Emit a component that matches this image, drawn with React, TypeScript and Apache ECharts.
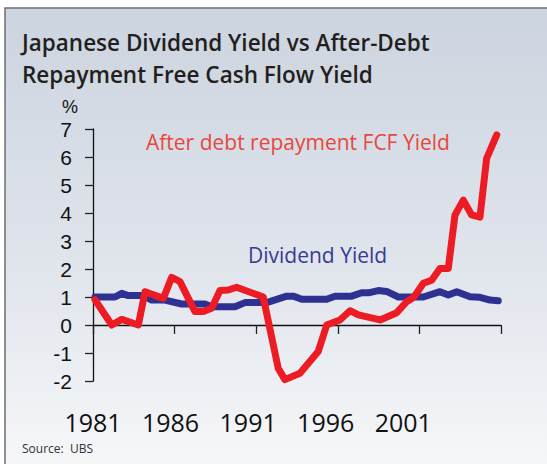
import React, { useEffect, useRef } from "react";
import * as echarts from "echarts";

// Years (decimal) and values
const fcfYears = [1981.12, 1982.15, 1982.76, 1983.78, 1984.19, 1985.31, 1985.82, 1986.33, 1987.25, 1987.76, 1988.27, 1988.78, 1989.29, 1989.8, 1991.1, 1991.43, 1992.35, 1992.76, 1993.68, 1994.8, 1995.32, 1996.13, 1996.75, 1997.26, 1998.59, 1999.61, 2000.22, 2000.67, 2001.24, 2001.75, 2002.26, 2002.77, 2003.18, 2003.69, 2004.2, 2004.71, 2005.12, 2005.74];
const fcfValues = [0.9, 0.0, 0.2, 0.0, 1.19, 0.95, 1.7, 1.55, 0.48, 0.48, 0.6, 1.23, 1.25, 1.35, 1.07, 1.0, -1.55, -1.95, -1.72, -0.95, 0.0, 0.18, 0.51, 0.36, 0.18, 0.44, 0.83, 1.0, 1.49, 1.6, 2.02, 2.02, 3.93, 4.46, 3.93, 3.85, 5.95, 6.79];

const divYears = [1981.12, 1982.35, 1982.76, 1983.16, 1984.08, 1984.6, 1985.41, 1986.43, 1987.86, 1988.27, 1989.7, 1990.31, 1991.64, 1992.87, 1993.27, 1993.79, 1995.32, 1995.83, 1996.85, 1997.46, 1997.87, 1998.48, 1998.99, 1999.71, 2001.24, 2002.26, 2002.77, 2003.29, 2004.1, 2004.71, 2005.33, 2005.83];
const divValues = [1.0, 1.0, 1.13, 1.05, 1.05, 0.89, 0.89, 0.75, 0.75, 0.65, 0.65, 0.8, 0.8, 1.03, 1.03, 0.92, 0.92, 1.03, 1.03, 1.15, 1.15, 1.23, 1.2, 1.0, 1.0, 1.19, 1.07, 1.19, 1.01, 0.99, 0.89, 0.87];

const startYear = 1981;
const xTickLabels = ["1981", "1986", "1991", "1996", "2001"];
const yTicks = [-2, 7];

const titleText = "Japanese Dividend Yield vs After-Debt\nRepayment Free Cash Flow Yield";
const fcfLabel = "After debt repayment FCF Yield";
const divLabel = "Dividend Yield";
const sourceText = "Source:  UBS";

const FONT = "'Open Sans', 'Noto Sans', sans-serif";
const TICK_FONT = "'Liberation Sans', Arial, sans-serif";

export default function App() {
  const ref = useRef<HTMLDivElement>(null);
  useEffect(() => {
    if (!ref.current) return;
    const chart = echarts.init(ref.current, undefined, { renderer: "svg" });
    const fcfData = fcfYears.map((y, i) => [y - startYear, fcfValues[i]]);
    const divData = divYears.map((y, i) => [y - startYear, divValues[i]]);
    chart.setOption({
      animation: false,
      backgroundColor: "#ffffff",
      title: {
        text: titleText,
        left: 22,
        top: 26,
        padding: 0,
        textStyle: {
          fontFamily: FONT,
          fontSize: 22.5,
          fontWeight: 600,
          lineHeight: 32,
          color: "#231f20",
        },
      },
      grid: { left: 93, right: 46, top: 129, bottom: 83, containLabel: false },
      xAxis: [
        {
          type: "value",
          min: 0,
          max: 25,
          interval: 5,
          axisLine: { onZero: true, lineStyle: { color: "#111", width: 1.3 } },
          axisTick: { show: true, length: 9, lineStyle: { color: "#222", width: 1.3 } },
          axisLabel: { show: false },
          splitLine: { show: false },
        },
        {
          type: "value",
          min: 0,
          max: 26.3,
          interval: 5,
          position: "bottom",
          axisLine: { show: false, onZero: false },
          axisTick: { show: false },
          splitLine: { show: false },
          axisLabel: {
            show: true,
            margin: 28,
            fontFamily: FONT,
            fontSize: 25,
            color: "#111",
            formatter: (v: number) => xTickLabels[Math.round(v / 5)] ?? "",
          },
        },
      ],
      yAxis: {
        type: "value",
        min: yTicks[0],
        max: yTicks[1],
        interval: 1,
        axisLine: { show: true, lineStyle: { color: "#111", width: 1.3 } },
        axisTick: { show: true, length: 8, lineStyle: { color: "#222", width: 1.3 } },
        axisLabel: { margin: 21, fontFamily: TICK_FONT, fontSize: 21, lineHeight: 18, color: "#111" },
        splitLine: { show: false },
      },
      graphic: [
        {
          type: "rect",
          z: -100,
          shape: { x: 5, y: 8, width: 600, height: 500 },
          style: {
            fill: new echarts.graphic.LinearGradient(0, 0, 0, 1, [
              { offset: 0, color: "#ccd4df" },
              { offset: 0.55, color: "#e2e6ed" },
              { offset: 1, color: "#fafbfc" },
            ]),
            stroke: "#6d6e71",
            lineWidth: 1.5,
          },
        },
        {
          type: "text",
          left: 62,
          top: 98,
          style: { text: "%", fontFamily: TICK_FONT, fontSize: 18, lineHeight: 16, fill: "#111" },
        },
        {
          type: "text",
          left: 146,
          top: 131,
          style: { text: fcfLabel, fontFamily: FONT, fontSize: 21, fill: "#e8473c" },
        },
        {
          type: "text",
          left: 248,
          top: 244,
          style: { text: divLabel, fontFamily: FONT, fontSize: 21, fill: "#3a3a95" },
        },
        {
          type: "text",
          left: 22,
          top: 442,
          style: { text: sourceText, fontFamily: FONT, fontSize: 12, fill: "#333" },
        },
      ],
      series: [
        {
          type: "line",
          name: divLabel,
          xAxisIndex: 0,
          data: divData,
          showSymbol: false,
          symbol: "none",
          lineStyle: { color: "#2e3192", width: 7, cap: "round", join: "round" },
          z: 3,
        },
        {
          type: "line",
          name: fcfLabel,
          xAxisIndex: 0,
          data: fcfData,
          showSymbol: false,
          symbol: "none",
          lineStyle: { color: "#ed1c24", width: 7, cap: "round", join: "round" },
          z: 4,
        },
      ],
    });
    return () => chart.dispose();
  }, []);
  return (
    <div
      ref={ref}
      style={{ position: "absolute", left: 0, top: 0, width: 547, height: 464 }}
    />
  );
}
